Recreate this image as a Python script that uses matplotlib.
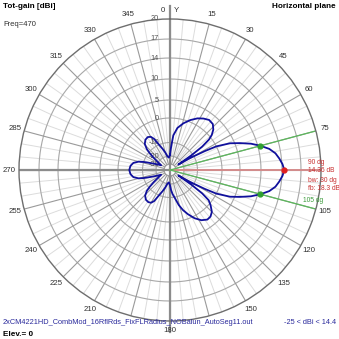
import numpy as np
import matplotlib
matplotlib.use("Agg")
import matplotlib.pyplot as plt
from matplotlib.transforms import offset_copy

plt.rcParams['font.family'] = ['Liberation Sans', 'DejaVu Sans']

# pattern: azimuth (deg, clockwise from Y) and total gain (dBi)
azimuth = [0, 2, 4, 5.5, 10, 16, 22, 28, 33, 38, 43, 47, 50, 52, 54, 55.5, 57,
           58, 59, 60, 61.5, 63, 66, 69, 72, 75, 78, 81, 84, 87, 90,
           93, 96, 99, 102, 105, 108, 111, 114, 117, 118.5, 120, 121, 122, 123,
           124.5, 126, 128, 131, 135, 139, 143, 148, 153, 158, 162, 166, 170, 174, 177,
           180, 185, 190, 195, 199, 203, 207, 210, 214, 219, 224, 228, 230.5, 233, 236,
           242, 248, 251, 253, 255, 259, 264, 270,
           276, 281, 285, 287, 289, 292, 298, 304, 307, 309.5, 312, 316, 321, 326,
           330, 333, 337, 341, 345, 350, 355, 360]
gain = [-19, -15, -10, -7, -3.8, -1.4, 0.5, 1.8, 2.6, 3.2, 3.0, 2.0, 0.7, -1.0, -5, -11, -25,
        -19, -14, -10, -5, 0, 3.8, 6.2, 8.6, 10.5, 12.0, 13.0, 13.6, 14.1, 14.36,
        14.1, 13.6, 13.0, 12.0, 10.5, 8.6, 6.2, 3.8, 0, -5, -10, -14, -19, -25,
        -11, -5, -1.2, 0.5, 2.0, 2.7, 2.8, 2.0, 0.6, -1.8, -4, -6.5, -9.5, -12.5, -15.5,
        -19, -22, -20.5, -17, -14, -10.5, -7, -5.8, -5.4, -5.6, -6.6, -8.5, -11, -15, -19,
        -25, -18, -14, -10, -8, -6.0, -5.0, -4.6,
        -5.0, -6.0, -8, -10, -14, -18, -25, -19, -15, -11, -8.5, -6.4, -5.3, -5.0,
        -5.6, -7, -10.5, -14, -17, -20.5, -22, -19]

max_az, max_gain = 90, 14.36
bw_az = [75, 105]
bw_gain = [10.5, 10.5]

# radial grid of the plot (dBi) and where each circle sits (px from centre)
r_ticks = [-40, -30, -20, -10, 0, 5, 10, 14, 17, 20]
r_px = [0, 6, 14, 27.5, 52, 70, 91, 112, 131, 151]
r_labels = [20, 17, 14, 10, 5, 0, -10, -20, -30]

def fwd(v):
    return np.interp(v, r_ticks, r_px)

def inv(p):
    return np.interp(p, r_px, r_ticks)

W = 339
fig = plt.figure(figsize=(W / 100, W / 100), dpi=100)
cx, cy, R = 170, 170, 151
ax = fig.add_axes([(cx - R) / W, (W - cy - R) / W, 2 * R / W, 2 * R / W], projection='polar')
ax.set_theta_zero_location('N')
ax.set_theta_direction(-1)
ax.set_rscale('function', functions=(fwd, inv))
ax.set_rlim(-40, 20)
ax.grid(False)
ax.set_yticks([])
ax.spines['polar'].set_color('#6e6e6e')
ax.spines['polar'].set_linewidth(1.0)

# grid circles
th = np.linspace(0, 2 * np.pi, 721)
for v in [-30, -20, -10, 0, 5, 10, 14, 17]:
    ax.plot(th, np.full_like(th, v), color='#a8a8a8', lw=0.8, zorder=1)

# radial lines: light every 5 deg, darker every 15 deg
for a in range(0, 360, 5):
    if a % 15 == 0:
        ax.plot([np.radians(a)] * 2, [-30, 20], color='#9a9a9a', lw=0.8, zorder=1)
    else:
        ax.plot([np.radians(a)] * 2, [-20, 20], color='#dcdcdc', lw=0.7, zorder=0.9)

# main X / Y axes
ax.plot([0.5, 0.5], [-0.037, 1.043], transform=ax.transAxes, color='#8c8c8c', lw=1.6,
        clip_on=False, zorder=1.5)
ax.plot([0, 0.5], [0.5, 0.5], transform=ax.transAxes, color='#8c8c8c', lw=1.6, zorder=1.5)

# angle labels (0 goes next to the Y by hand; 90, 165, 195 are not shown)
angles = list(range(0, 360, 15))
labels = [str(a) if a not in (0, 90, 165, 195) else '' for a in angles]
ax.set_thetagrids(angles, labels)
ax.tick_params(axis='x', pad=0, labelsize=5.6, colors='#303030', length=0)

# gain labels along the Y axis
lab_tr = offset_copy(ax.transData, fig=fig, x=-11, y=0, units='dots')
for v in r_labels:
    ax.text(0, v, str(v), transform=lab_tr, ha='right', va='center',
            fontsize=5.3, color='#505050', zorder=3)

# max gain and beamwidth markers
ax.plot([np.radians(max_az)] * 2, [-40, 20], color='#d48c8c', lw=1.4, zorder=2)
for a in bw_az:
    ax.plot([np.radians(a)] * 2, [-40, 20], color='#5cb85c', lw=0.9, zorder=2)

ax.plot(np.radians(azimuth), gain, color='#10109c', lw=1.3, zorder=4)
ax.plot(np.radians(max_az), max_gain, 'o', color='#e02020', ms=3.5, zorder=5)
ax.plot(np.radians(bw_az), bw_gain, 'o', color='#30a030', ms=3.5, zorder=5)

def px(x, y):
    return x / W, 1 - y / W

fig.text(*px(3, 6), 'Tot-gain [dBi]', fontsize=5.9, fontweight='bold', va='center')
fig.text(*px(336, 6), 'Horizontal plane', fontsize=5.9, fontweight='bold', va='center', ha='right')
fig.text(*px(3, 25), 'Freq=470', fontsize=5.5, va='center', color='#303030')
fig.text(*px(163, 10), '0', fontsize=5.6, va='center', ha='center', color='#303030')
fig.text(*px(176, 10), 'Y', fontsize=5.6, va='center', ha='center', color='#303030')
fig.text(*px(3, 323), '2xCM4221HD_CombMod_16RflRds_FixFLRadius_NOBalun_AutoSeg11.out',
         fontsize=5.3, va='center', color='#2a2a9c')
fig.text(*px(336, 323), '-25 < dBi < 14.4', fontsize=5.3, va='center', ha='right', color='#2a2a9c')
fig.text(*px(3, 334), 'Elev.= 0', fontsize=5.9, fontweight='bold', va='center')

red = '#c83030'
for y, s in [(162, '90 dg'), (171, '14.36 dB'), (180, 'bw: 30 dg'), (189, 'fb: 18.3 dB')]:
    fig.text(*px(308, y), s, fontsize=4.8, va='center', color=red)
fig.text(*px(303, 201), '105 dg', fontsize=4.8, va='center', color='#3a9a3a')

fig.savefig('out.png', dpi=100)
